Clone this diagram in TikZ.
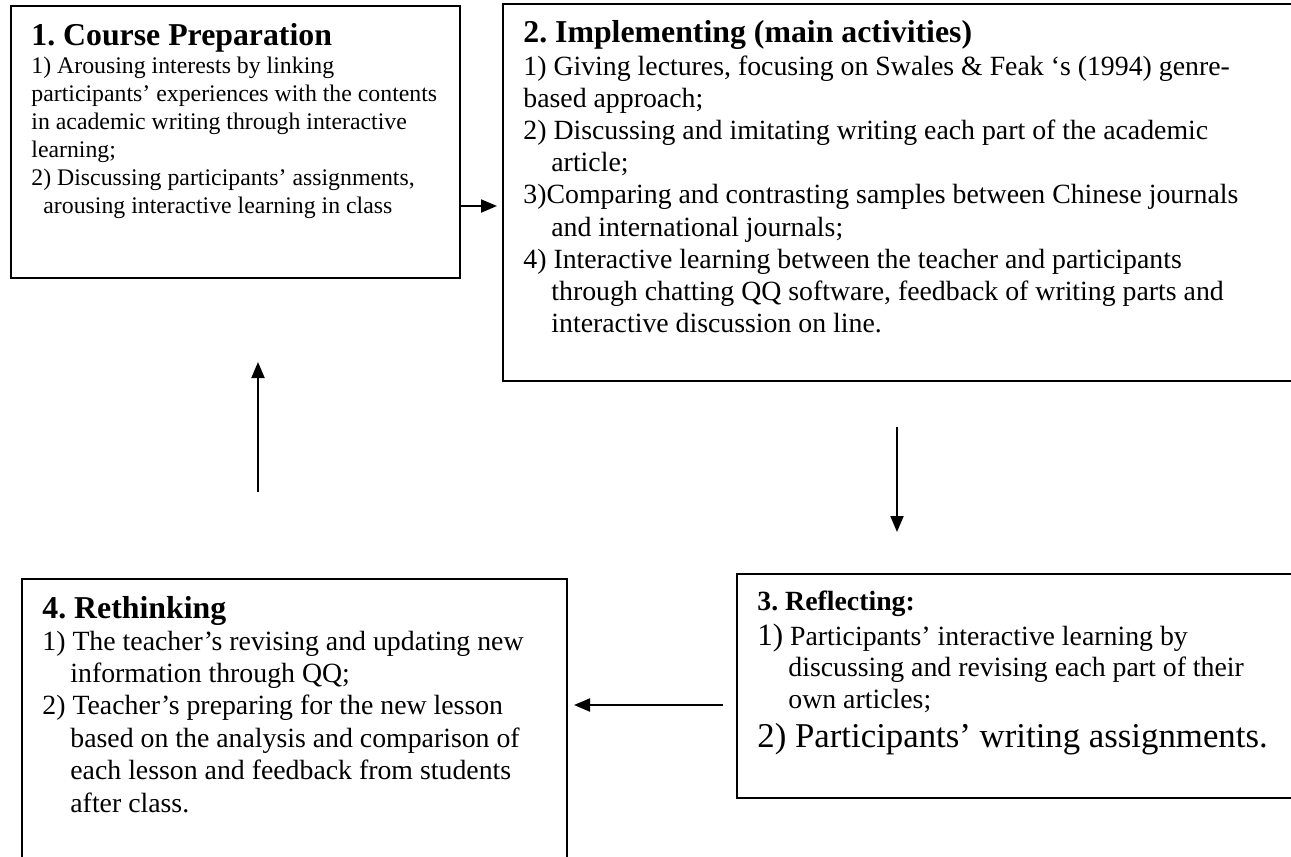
\documentclass[tikz,border=0pt]{standalone}
\usepackage{fontspec}
\setmainfont{Liberation Serif}[Ligatures={TeX,CommonOff}]
\usetikzlibrary{arrows.meta}
\frenchspacing
\begin{document}
\begin{tikzpicture}[x=0.5pt,y=-0.5pt,
  box/.style={draw, line width=1pt, anchor=north west, inner sep=0pt},
  txt/.style={anchor=base west, inner sep=0pt},
  arr/.style={line width=1pt, -{Triangle[length=8pt,width=6.5pt]}}]
\clip (0,0) rectangle (1291,857);
% boxes
\node[box, minimum width=224.5pt, minimum height=136pt] (b1) at (10,5) {};
\node[box, minimum width=399pt, minimum height=188.5pt] (b2) at (502,3) {};
\node[box, minimum width=282pt, minimum height=112pt] (b3) at (736,573) {};
\node[box, minimum width=272.5pt, minimum height=146pt] (b4) at (21,578) {};
% box 1 text
\node[txt] (t1) at (31,45) {\fontsize{15.9}{18}\selectfont\bfseries 1. Course Preparation};
\node[txt] (x1) at (31,73) {\parbox[t]{400pt}{\fontsize{11.9}{14}\selectfont
1) Arousing interests by linking\\
participants’ experiences with the contents\\
in academic writing through interactive\\
learning;\\
2) Discussing participants’ assignments,\\
\hspace*{6pt}arousing interactive learning in class}};
% box 2 text
\node[txt] (t2) at (523,42) {\fontsize{15.9}{18}\selectfont\bfseries 2. Implementing (main activities)};
\node[txt] (x2) at (523,75) {\parbox[t]{500pt}{\fontsize{13.9}{16.1}\selectfont
1) Giving lectures, focusing on Swales \& Feak ‘s (1994) genre-\\
based approach;\\
2) Discussing and imitating writing each part of the academic\\
\hspace*{14pt}article;\\
3)Comparing and contrasting samples between Chinese journals\\
\hspace*{14pt}and international journals;\\
4) Interactive learning between the teacher and participants\\
\hspace*{14pt}through chatting QQ software, feedback of writing parts and\\
\hspace*{14pt}interactive discussion on line.}};
% box 3 text
\node[txt] (t3) at (757,610) {\fontsize{13.9}{16}\selectfont\bfseries 3. Reflecting:};
\node[txt] (x3) at (757,645) {\parbox[t]{400pt}{\fontsize{13.9}{15.75}\selectfont
{\fontsize{15.5}{15.75}\selectfont 1)} Participants’ interactive learning by\\
\hspace*{15.5pt}discussing and revising each part of their\\
\hspace*{15.5pt}own articles;}};
\node[txt] (y3) at (757,747) {\fontsize{17.4}{20}\selectfont 2) Participants’ writing assignments.};
% box 4 text
\node[txt] (t4) at (42,618) {\fontsize{15.9}{18}\selectfont\bfseries 4. Rethinking};
\node[txt] (x4) at (42,650) {\parbox[t]{400pt}{\fontsize{13.9}{16.2}\selectfont
1) The teacher’s revising and updating new\\
\hspace*{14pt}information through QQ;\\
2) Teacher’s preparing for the new lesson\\
\hspace*{14pt}based on the analysis and comparison of\\
\hspace*{14pt}each lesson and feedback from students\\
\hspace*{14pt}after class.}};
% connectors
\coordinate (a12s) at (459,206);
\coordinate (a12e) at (497,206);
\coordinate (a23s) at (897,427);
\coordinate (a23e) at (897,532);
\coordinate (a34s) at (723,705);
\coordinate (a34e) at (574,705);
\coordinate (a41s) at (258,492);
\coordinate (a41e) at (258,362);
\draw[arr] (a12s) -- (a12e);
\draw[arr] (a23s) -- (a23e);
\draw[arr] (a34s) -- (a34e);
\draw[arr] (a41s) -- (a41e);
\end{tikzpicture}
\end{document}
